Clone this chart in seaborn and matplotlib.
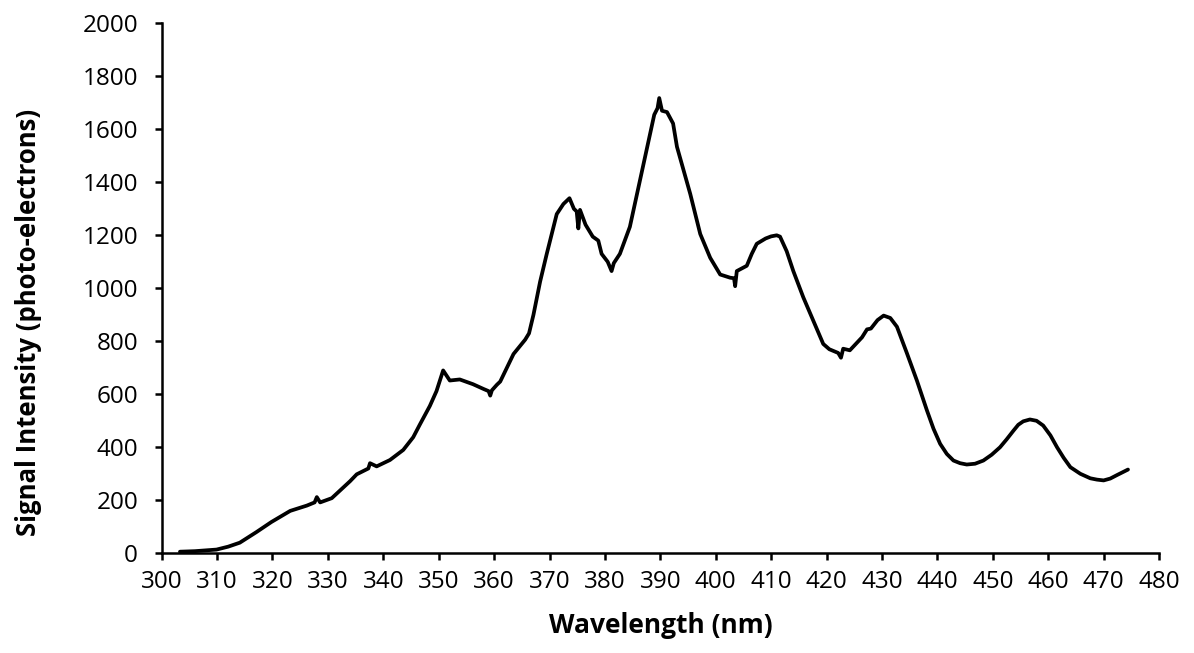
import matplotlib
matplotlib.use("Agg")
import matplotlib.pyplot as plt
import pandas as pd
import seaborn as sns

# spectrum
wavelength = [303.3, 306.0, 309.9, 312.0, 314.1, 317.1, 319.8, 323.2, 326.2, 327.6, 328.0, 328.6,
              330.7, 334.0, 335.2, 337.3, 337.6, 338.8, 341.2, 343.6, 345.4, 346.6, 348.4, 349.6,
              350.8, 352.0, 353.8, 356.2, 358.1, 359.0, 359.3, 359.6, 360.5, 361.1, 363.5, 365.6,
              366.3, 367.1, 368.3, 369.5, 371.3, 372.5, 373.6, 374.4, 374.9, 375.2, 375.5, 376.5,
              377.8, 378.8, 379.4, 380.5, 381.2, 381.6, 382.7, 384.5, 386.3, 388.0, 388.9, 389.5,
              389.8, 390.3, 391.2, 392.3, 393.0, 395.4, 397.2, 399.0, 400.8, 402.6, 403.3, 403.5,
              403.8, 405.6, 406.5, 407.4, 409.0, 410.0, 411.0, 411.6, 412.8, 414.0, 415.8, 417.6,
              419.4, 420.5, 422.1, 422.6, 423.0, 424.2, 425.5, 426.4, 427.3, 428.0, 429.2, 430.3,
              431.5, 432.7, 434.5, 436.3, 438.1, 439.3, 440.5, 441.7, 442.9, 444.1, 445.3, 446.8,
              448.3, 449.8, 451.3, 452.5, 453.7, 454.6, 455.5, 456.7, 457.9, 459.1, 460.4, 461.6,
              462.8, 464.0, 465.8, 467.6, 468.8, 470.0, 471.2, 472.4, 474.4]
intensity = [6, 8, 14, 25, 40, 80, 118, 160, 180, 192, 212, 192,
             208, 272, 298, 320, 340, 328, 352, 390, 438, 486, 556, 612,
             690, 652, 656, 638, 620, 612, 595, 615, 636, 648, 752, 806,
             830, 900, 1025, 1130, 1280, 1318, 1340, 1300, 1290, 1226, 1296, 1240,
             1195, 1180, 1130, 1100, 1065, 1095, 1130, 1232, 1405, 1570, 1655, 1680,
             1718, 1670, 1665, 1622, 1534, 1356, 1205, 1115, 1052, 1040, 1038, 1008,
             1065, 1085, 1130, 1168, 1188, 1196, 1200, 1195, 1140, 1065, 966, 878,
             790, 770, 756, 738, 772, 766, 795, 815, 845, 848, 880, 897,
             888, 855, 755, 652, 540, 470, 413, 375, 350, 340, 335, 338,
             350, 372, 400, 430, 462, 485, 498, 505, 500, 482, 445, 400,
             360, 325, 300, 283, 278, 275, 282, 295, 316]

df = pd.DataFrame({"Wavelength (nm)": wavelength, "Signal": intensity})

sns.set_style("ticks")
plt.rcParams["font.family"] = ["Open Sans", "DejaVu Sans"]
plt.rcParams["text.color"] = "black"
plt.rcParams["axes.labelcolor"] = "black"

fig = plt.figure(figsize=(11.94, 6.53), dpi=100)
ax = fig.add_axes([0.1354, 0.1527, 0.8353, 0.8116])
sns.lineplot(data=df, x="Wavelength (nm)", y="Signal", color="black", linewidth=2.7, ax=ax)

ax.set_xlim(300, 480)
ax.set_ylim(0, 2000)
ax.set_xticks(range(300, 481, 10))
ax.set_yticks(range(0, 2001, 200))
ax.tick_params(axis="both", labelsize=17.5, width=1.8, length=5, direction="out",
               colors="black", labelcolor="black")
ax.tick_params(axis="y", pad=12)
ax.tick_params(axis="x", pad=7)
for s in ["left", "bottom"]:
    ax.spines[s].set_linewidth(1.8)
    ax.spines[s].set_color("black")
sns.despine(ax=ax)

ax.set_xlabel("Wavelength (nm)", fontsize=19, fontweight="bold", labelpad=13)
ax.set_ylabel("Signal Intensity (photo-electrons)", fontsize=18.5, fontweight="bold")
ax.yaxis.set_label_coords(-0.12, 0.436)

fig.savefig("out.png", dpi=100)
